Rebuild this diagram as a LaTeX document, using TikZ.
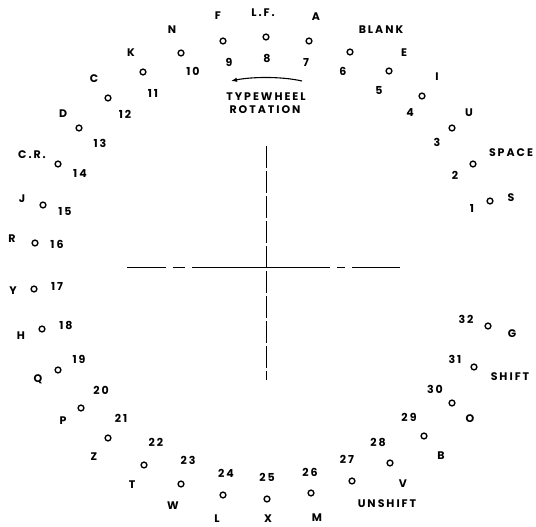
\documentclass[tikz,border=0pt]{standalone}
\usepackage{fontspec}
\setmainfont{Poppins}[LetterSpace=18]
\usetikzlibrary{arrows.meta}
\begin{document}
\begin{tikzpicture}[x=1pt,y=-1pt,
  hole/.style={circle,draw,line width=1.4pt,inner sep=0pt,minimum size=5.8pt},
  lbl/.style={inner sep=0pt,font=\fontsize{11}{13}\selectfont\bfseries},
  num/.style={inner sep=0pt,font=\fontsize{11}{13}\selectfont\bfseries},
  axis/.style={line width=0.9pt},
  thin axis/.style={line width=0.6pt},
  rot/.style={line width=1.1pt,-{Latex[length=6pt,width=4.5pt]}}]
\useasboundingbox (0,0) rectangle (536,527);
% holes
\foreach \n/\x/\y in {1/490/201,2/473/164,3/452/128,4/422/96,5/389/71,6/350/52,7/309/41,8/266/37,
  9/223/41,10/181/53,11/143/72,12/108/98,13/79/128,14/58/164,15/43/205,16/35/243,
  17/34/289,18/42/329,19/58/370,20/81/408,21/108/438,22/144/465,23/181/484,24/223/495,
  25/267/499,26/311/493,27/352/481,28/390/463,29/424/436,30/452/403,31/474/367,32/488/326}
  \node[hole] (c\n) at (\x,\y) {};
% numbers
\foreach \n/\x/\y in {1/472/208,2/455/175,3/437/142,4/410/113,5/379/90,6/343/71,7/306/62,8/267/58,
  9/229/62,10/193/71,11/153/93,12/125/114,13/100/143,14/80/173,15/65/211,16/57/244,
  17/57/286,18/66/325,19/79/359,20/101/390,21/121/418,22/156/442,23/188/460,24/226/473,
  25/267/477,26/310/472,27/347/459,28/378/442,29/409/417,30/435/389,31/455/359,32/466/319}
  \node[num] (n\n) at (\x,\y) {\n};
% letters
\node[lbl] (lF) at (218,16) {F};
\node[lbl] (lLF) at (263,13) {L.F.};
\node[lbl] (lA) at (316,17) {A};
\node[lbl] (lN) at (172,30) {N};
\node[lbl] (lBLANK) at (381,30) {BLANK};
\node[lbl] (lK) at (131,53) {K};
\node[lbl] (lE) at (404,53) {E};
\node[lbl] (lC) at (94,79) {C};
\node[lbl] (lI) at (437,77) {I};
\node[lbl] (lD) at (63,114) {D};
\node[lbl] (lU) at (469,113) {U};
\node[lbl] (lCR) at (32,155) {C.R.};
\node[lbl] (lSPACE) at (511,153) {SPACE};
\node[lbl] (lS) at (511,198) {S};
\node[lbl] (lJ) at (22,199) {J};
\node[lbl] (lR) at (12,239) {R};
\node[lbl] (lY) at (13,291) {Y};
\node[lbl] (lH) at (21,336) {H};
\node[lbl] (lQ) at (38,379) {Q};
\node[lbl] (lG) at (512,334) {G};
\node[lbl] (lSHIFT) at (510,377) {SHIFT};
\node[lbl] (lO) at (470,419) {O};
\node[lbl] (lB) at (441,456) {B};
\node[lbl] (lV) at (403,484) {V};
\node[lbl] (lP) at (63,421) {P};
\node[lbl] (lZ) at (94,457) {Z};
\node[lbl] (lT) at (132,485) {T};
\node[lbl] (lW) at (173,506) {W};
\node[lbl] (lL) at (217,519) {L};
\node[lbl] (lX) at (268,519) {X};
\node[lbl] (lM) at (317,518) {M};
\node[lbl] (lUNSHIFT) at (387,504) {UNSHIFT};
% rotation note
\node[lbl] (tw) at (266,97) {TYPEWHEEL};
\node[lbl] (rt) at (265,110) {ROTATION};
\coordinate (atail) at (302,81);
\coordinate (atip) at (231,81);
\draw[rot] (atail) .. controls (280,76) and (250,77) .. (atip);
% centre lines
\coordinate (vt) at (266,146);
\coordinate (vb) at (266,380);
\draw[thin axis,dash pattern=on 22pt off 3pt] (vt) -- (vb);
\coordinate (h1) at (127,267);
\coordinate (h2) at (166,267);
\coordinate (h3) at (173,267);
\coordinate (h4) at (185,267);
\coordinate (h5) at (192,267);
\coordinate (h6) at (330,267);
\coordinate (h7) at (337,267);
\coordinate (h8) at (345,267);
\coordinate (h9) at (352,267);
\coordinate (h10) at (400,267);
\draw[thin axis] (h1) -- (h2);
\draw[thin axis] (h3) -- (h4);
\draw[axis] (h5) -- (h6);
\draw[thin axis] (h7) -- (h8);
\draw[thin axis] (h9) -- (h10);
\end{tikzpicture}
\end{document}
